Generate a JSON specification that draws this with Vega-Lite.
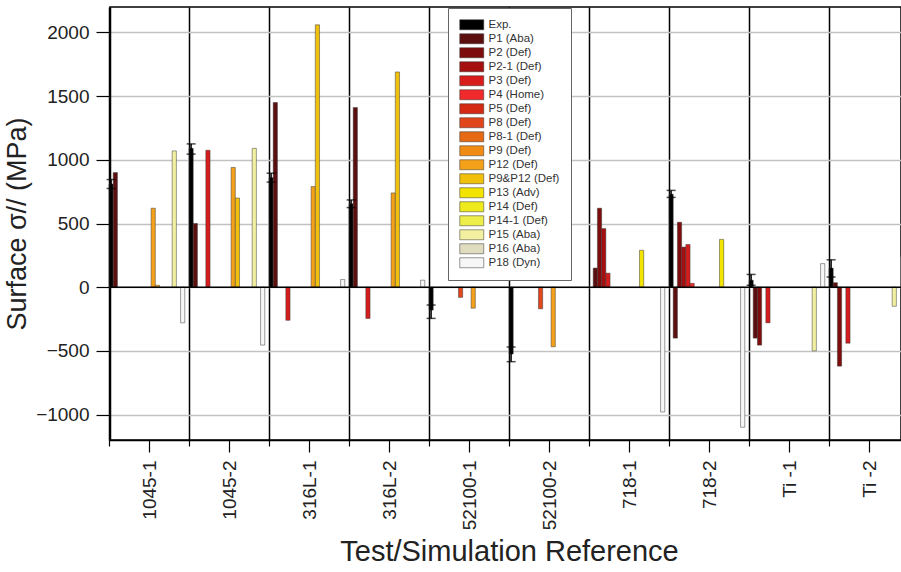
{
  "$schema": "https://vega.github.io/schema/vega-lite/v6.json",
  "width": 791,
  "height": 433,
  "autosize": {"type": "none"},
  "padding": {"left": 110, "top": 7, "right": 0, "bottom": 132},
  "background": "white",
  "config": {
    "view": {"stroke": "black", "strokeWidth": 1.5},
    "font": "Liberation Sans"
  },
  "datasets": {
    "bars": [
      {"g": "1045-1", "s": "Exp.", "v": 810, "lo": 775, "hi": 845},
      {"g": "1045-1", "s": "P1 (Aba)", "v": 900},
      {"g": "1045-1", "s": "P12 (Def)", "v": 620},
      {"g": "1045-1", "s": "P9&P12 (Def)", "v": 15},
      {"g": "1045-1", "s": "P15 (Aba)", "v": 1070},
      {"g": "1045-1", "s": "P18 (Dyn)", "v": -280},
      {"g": "1045-2", "s": "Exp.", "v": 1090, "lo": 1045, "hi": 1125},
      {"g": "1045-2", "s": "P1 (Aba)", "v": 500},
      {"g": "1045-2", "s": "P3 (Def)", "v": 1075},
      {"g": "1045-2", "s": "P12 (Def)", "v": 940},
      {"g": "1045-2", "s": "P9&P12 (Def)", "v": 700},
      {"g": "1045-2", "s": "P15 (Aba)", "v": 1090},
      {"g": "1045-2", "s": "P18 (Dyn)", "v": -455},
      {"g": "316L-1", "s": "Exp.", "v": 860, "lo": 825, "hi": 895},
      {"g": "316L-1", "s": "P1 (Aba)", "v": 1450},
      {"g": "316L-1", "s": "P3 (Def)", "v": -260},
      {"g": "316L-1", "s": "P12 (Def)", "v": 790},
      {"g": "316L-1", "s": "P9&P12 (Def)", "v": 2060},
      {"g": "316L-1", "s": "P18 (Dyn)", "v": 60},
      {"g": "316L-2", "s": "Exp.", "v": 655, "lo": 625, "hi": 685},
      {"g": "316L-2", "s": "P1 (Aba)", "v": 1410},
      {"g": "316L-2", "s": "P3 (Def)", "v": -245},
      {"g": "316L-2", "s": "P12 (Def)", "v": 740},
      {"g": "316L-2", "s": "P9&P12 (Def)", "v": 1690},
      {"g": "316L-2", "s": "P18 (Dyn)", "v": 55},
      {"g": "52100-1", "s": "Exp.", "v": -180, "lo": -245, "hi": -140},
      {"g": "52100-1", "s": "P8 (Def)", "v": -80},
      {"g": "52100-1", "s": "P12 (Def)", "v": -165},
      {"g": "52100-2", "s": "Exp.", "v": -525, "lo": -585, "hi": -470},
      {"g": "52100-2", "s": "P8 (Def)", "v": -170},
      {"g": "52100-2", "s": "P12 (Def)", "v": -468},
      {"g": "718-1", "s": "P1 (Aba)", "v": 150},
      {"g": "718-1", "s": "P2 (Def)", "v": 620},
      {"g": "718-1", "s": "P2-1 (Def)", "v": 460},
      {"g": "718-1", "s": "P3 (Def)", "v": 110},
      {"g": "718-1", "s": "P13 (Adv)", "v": 290},
      {"g": "718-1", "s": "P18 (Dyn)", "v": -980},
      {"g": "718-2", "s": "Exp.", "v": 730, "lo": 705, "hi": 760},
      {"g": "718-2", "s": "P1 (Aba)", "v": -400},
      {"g": "718-2", "s": "P2 (Def)", "v": 510},
      {"g": "718-2", "s": "P2-1 (Def)", "v": 315},
      {"g": "718-2", "s": "P3 (Def)", "v": 335},
      {"g": "718-2", "s": "P4 (Home)", "v": 30},
      {"g": "718-2", "s": "P13 (Adv)", "v": 375},
      {"g": "718-2", "s": "P18 (Dyn)", "v": -1100},
      {"g": "Ti -1", "s": "Exp.", "v": 55, "lo": 15, "hi": 100},
      {"g": "Ti -1", "s": "P1 (Aba)", "v": -400},
      {"g": "Ti -1", "s": "P2 (Def)", "v": -455},
      {"g": "Ti -1", "s": "P3 (Def)", "v": -280},
      {"g": "Ti -1", "s": "P15 (Aba)", "v": -500},
      {"g": "Ti -1", "s": "P18 (Dyn)", "v": 185},
      {"g": "Ti -2", "s": "Exp.", "v": 150, "lo": 80, "hi": 215},
      {"g": "Ti -2", "s": "P1 (Aba)", "v": 35},
      {"g": "Ti -2", "s": "P2 (Def)", "v": -620},
      {"g": "Ti -2", "s": "P3 (Def)", "v": -440},
      {"g": "Ti -2", "s": "P15 (Aba)", "v": -150},
      {"g": "Ti -2", "s": "P18 (Dyn)", "v": 240}
    ]
  },
  "resolve": {"axis": {"x": "independent"}},
  "layer": [
    {
      "data": {"name": "bars"},
      "mark": {"type": "bar", "stroke": "#3a3a3a", "strokeWidth": 0.5},
      "encoding": {
        "x": {
          "field": "g", "type": "nominal",
          "sort": ["1045-1", "1045-2", "316L-1", "316L-2", "52100-1", "52100-2", "718-1", "718-2", "Ti -1", "Ti -2"],
          "scale": {"range": [-1, 799], "paddingInner": 0, "paddingOuter": 0},
          "axis": {
            "orient": "bottom",
            "tickBand": "extent",
            "grid": true, "gridColor": "black", "gridWidth": 1.5, "gridOpacity": 1,
            "ticks": true, "tickSize": 6, "tickColor": "black", "tickWidth": 1.2,
            "domainColor": "black", "domainWidth": 1.5,
            "labelAngle": -90, "labelFontSize": 19, "labelColor": "#222", "labelPadding": 14,
            "title": "Test/Simulation Reference", "titleFontSize": 29, "titleFontWeight": "normal",
            "titleColor": "#222", "titlePadding": 8
          }
        },
        "xOffset": {
          "field": "s", "type": "nominal",
          "scale": {
            "domain": ["Exp.", "P1 (Aba)", "P2 (Def)", "P2-1 (Def)", "P3 (Def)", "P4 (Home)", "P5 (Def)", "P8 (Def)", "P8-1 (Def)", "P9 (Def)", "P12 (Def)", "P9&P12 (Def)", "P13 (Adv)", "P14 (Def)", "P14-1 (Def)", "P15 (Aba)", "P16 (Aba)", "P18 (Dyn)", " "],
            "paddingInner": 0, "paddingOuter": 0
          }
        },
        "y": {
          "field": "v", "type": "quantitative", "stack": null,
          "title": "Surface σ// (MPa)",
          "scale": {"domain": [-1200, 2200], "nice": false, "zero": false},
          "axis": {
            "values": [-1000, -750, -500, -250, 0, 250, 500, 750, 1000, 1250, 1500, 1750, 2000],
            "format": "d",
            "labelExpr": "datum.value % 500 === 0 ? datum.label : ''",
            "labelFontSize": 19, "labelColor": "#222", "labelPadding": 7,
            "tickSize": {"condition": {"test": "datum.value % 500 !== 0", "value": 7}, "value": 14},
            "tickColor": "black", "tickWidth": 1.2,
            "domainColor": "black", "domainWidth": 1.5,
            "grid": true,
            "gridColor": {"condition": {"test": "datum.value % 500 !== 0", "value": "#d0d0d0"}, "value": "#c2c2c2"},
            "gridDash": {"condition": {"test": "datum.value % 500 !== 0", "value": [2, 3]}, "value": []},
            "gridWidth": 1.5,
            "titleFontSize": 27, "titleFontWeight": "normal", "titleColor": "#222", "titlePadding": 4
          }
        },
        "color": {
          "field": "s", "type": "nominal",
          "scale": {
            "domain": ["Exp.", "P1 (Aba)", "P2 (Def)", "P2-1 (Def)", "P3 (Def)", "P4 (Home)", "P5 (Def)", "P8 (Def)", "P8-1 (Def)", "P9 (Def)", "P12 (Def)", "P9&P12 (Def)", "P13 (Adv)", "P14 (Def)", "P14-1 (Def)", "P15 (Aba)", "P16 (Aba)", "P18 (Dyn)"],
            "range": ["#000000", "#5c0f0f", "#7d0c0c", "#a50f0f", "#d81c1c", "#f02a2a", "#d42a14", "#e0461a", "#e66a14", "#f08c14", "#f4a11a", "#f0c00c", "#f3e400", "#eeea1e", "#eeee4a", "#f2f0a0", "#e0dcc0", "#f6f6f6"]
          },
          "legend": {
            "title": null, "orient": "none", "legendX": 338, "legendY": 1,
            "direction": "vertical",
            "symbolType": "M-2.4,-1H2.4V1H-2.4Z", "symbolSize": 100,
            "symbolOffset": 7,
            "symbolStrokeColor": "#333", "symbolStrokeWidth": 0.5,
            "labelFontSize": 11.5, "labelColor": "#333", "labelOffset": 11,
            "rowPadding": 1, "padding": 11,
            "strokeColor": "#666", "fillColor": "white"
          }
        }
      }
    },
    {
      "data": {"values": [{}]},
      "mark": {"type": "rule", "color": "black", "strokeWidth": 1.5},
      "encoding": {
        "y": {"datum": 0, "type": "quantitative"}
      }
    },
    {
      "data": {"name": "bars"},
      "transform": [{"filter": "isValid(datum.lo)"}],
      "mark": {"type": "rule", "color": "black", "strokeWidth": 1.5},
      "encoding": {
        "x": {
          "field": "g", "type": "nominal",
          "sort": ["1045-1", "1045-2", "316L-1", "316L-2", "52100-1", "52100-2", "718-1", "718-2", "Ti -1", "Ti -2"],
          "axis": {
            "orient": "bottom", "labels": false, "domain": false, "grid": false,
            "ticks": true, "tickSize": 12, "tickColor": "black", "tickWidth": 1.2, "title": null
          }
        },
        "xOffset": {"field": "s", "type": "nominal"},
        "y": {"field": "lo", "type": "quantitative", "title": "Surface σ// (MPa)"},
        "y2": {"field": "hi"}
      }
    },
    {
      "data": {"name": "bars"},
      "transform": [{"filter": "isValid(datum.lo)"}],
      "mark": {"type": "tick", "color": "black", "thickness": 1.5, "size": 9},
      "encoding": {
        "x": {"field": "g", "type": "nominal", "sort": ["1045-1", "1045-2", "316L-1", "316L-2", "52100-1", "52100-2", "718-1", "718-2", "Ti -1", "Ti -2"], "axis": null},
        "xOffset": {"field": "s", "type": "nominal"},
        "y": {"field": "lo", "type": "quantitative", "title": "Surface σ// (MPa)"}
      }
    },
    {
      "data": {"name": "bars"},
      "transform": [{"filter": "isValid(datum.lo)"}],
      "mark": {"type": "tick", "color": "black", "thickness": 1.5, "size": 9},
      "encoding": {
        "x": {"field": "g", "type": "nominal", "sort": ["1045-1", "1045-2", "316L-1", "316L-2", "52100-1", "52100-2", "718-1", "718-2", "Ti -1", "Ti -2"], "axis": null},
        "xOffset": {"field": "s", "type": "nominal"},
        "y": {"field": "hi", "type": "quantitative", "title": "Surface σ// (MPa)"}
      }
    }
  ]
}
